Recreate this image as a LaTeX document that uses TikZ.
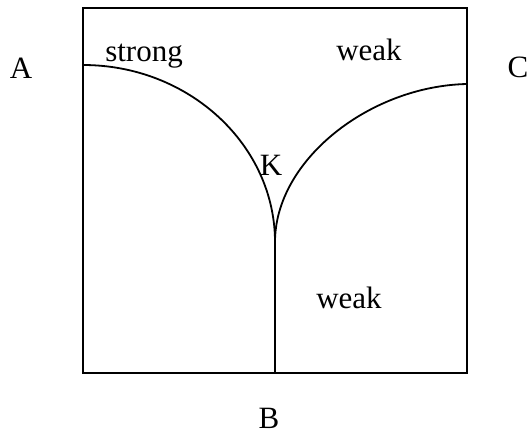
\documentclass[tikz,border=0pt]{standalone}
\usepackage{fontspec}
\setmainfont{Liberation Serif}
\begin{document}
\begin{tikzpicture}[x=1pt,y=-1pt,line width=1.8pt,
  lbl/.style={anchor=base,inner sep=0pt,font=\fontsize{31}{36}\selectfont}]
\useasboundingbox (0,0) rectangle (532,436);
\coordinate (TL) at (83,8);
\coordinate (BR) at (467,373);
\coordinate (Lstart) at (83,65);
\coordinate (Rstart) at (467,84);
\coordinate (J) at (275,242);
\coordinate (Bot) at (275,373);
\draw (TL) rectangle (BR);
\draw (Lstart) .. controls (189,65) and (275,145) .. (J);
\draw (Rstart) .. controls (370,86) and (275,160) .. (J);
\draw (J) -- (Bot);
\node[lbl] (strong) at (144,62) {strong};
\node[lbl] (weakT) at (369,60) {weak};
\node[lbl] (K) at (271,175) {K};
\node[lbl] (weakB) at (349,308) {weak};
\node[lbl] (A) at (21,78) {A};
\node[lbl] (C) at (518,77) {C};
\node[lbl] (B) at (269,428) {B};
\end{tikzpicture}
\end{document}
